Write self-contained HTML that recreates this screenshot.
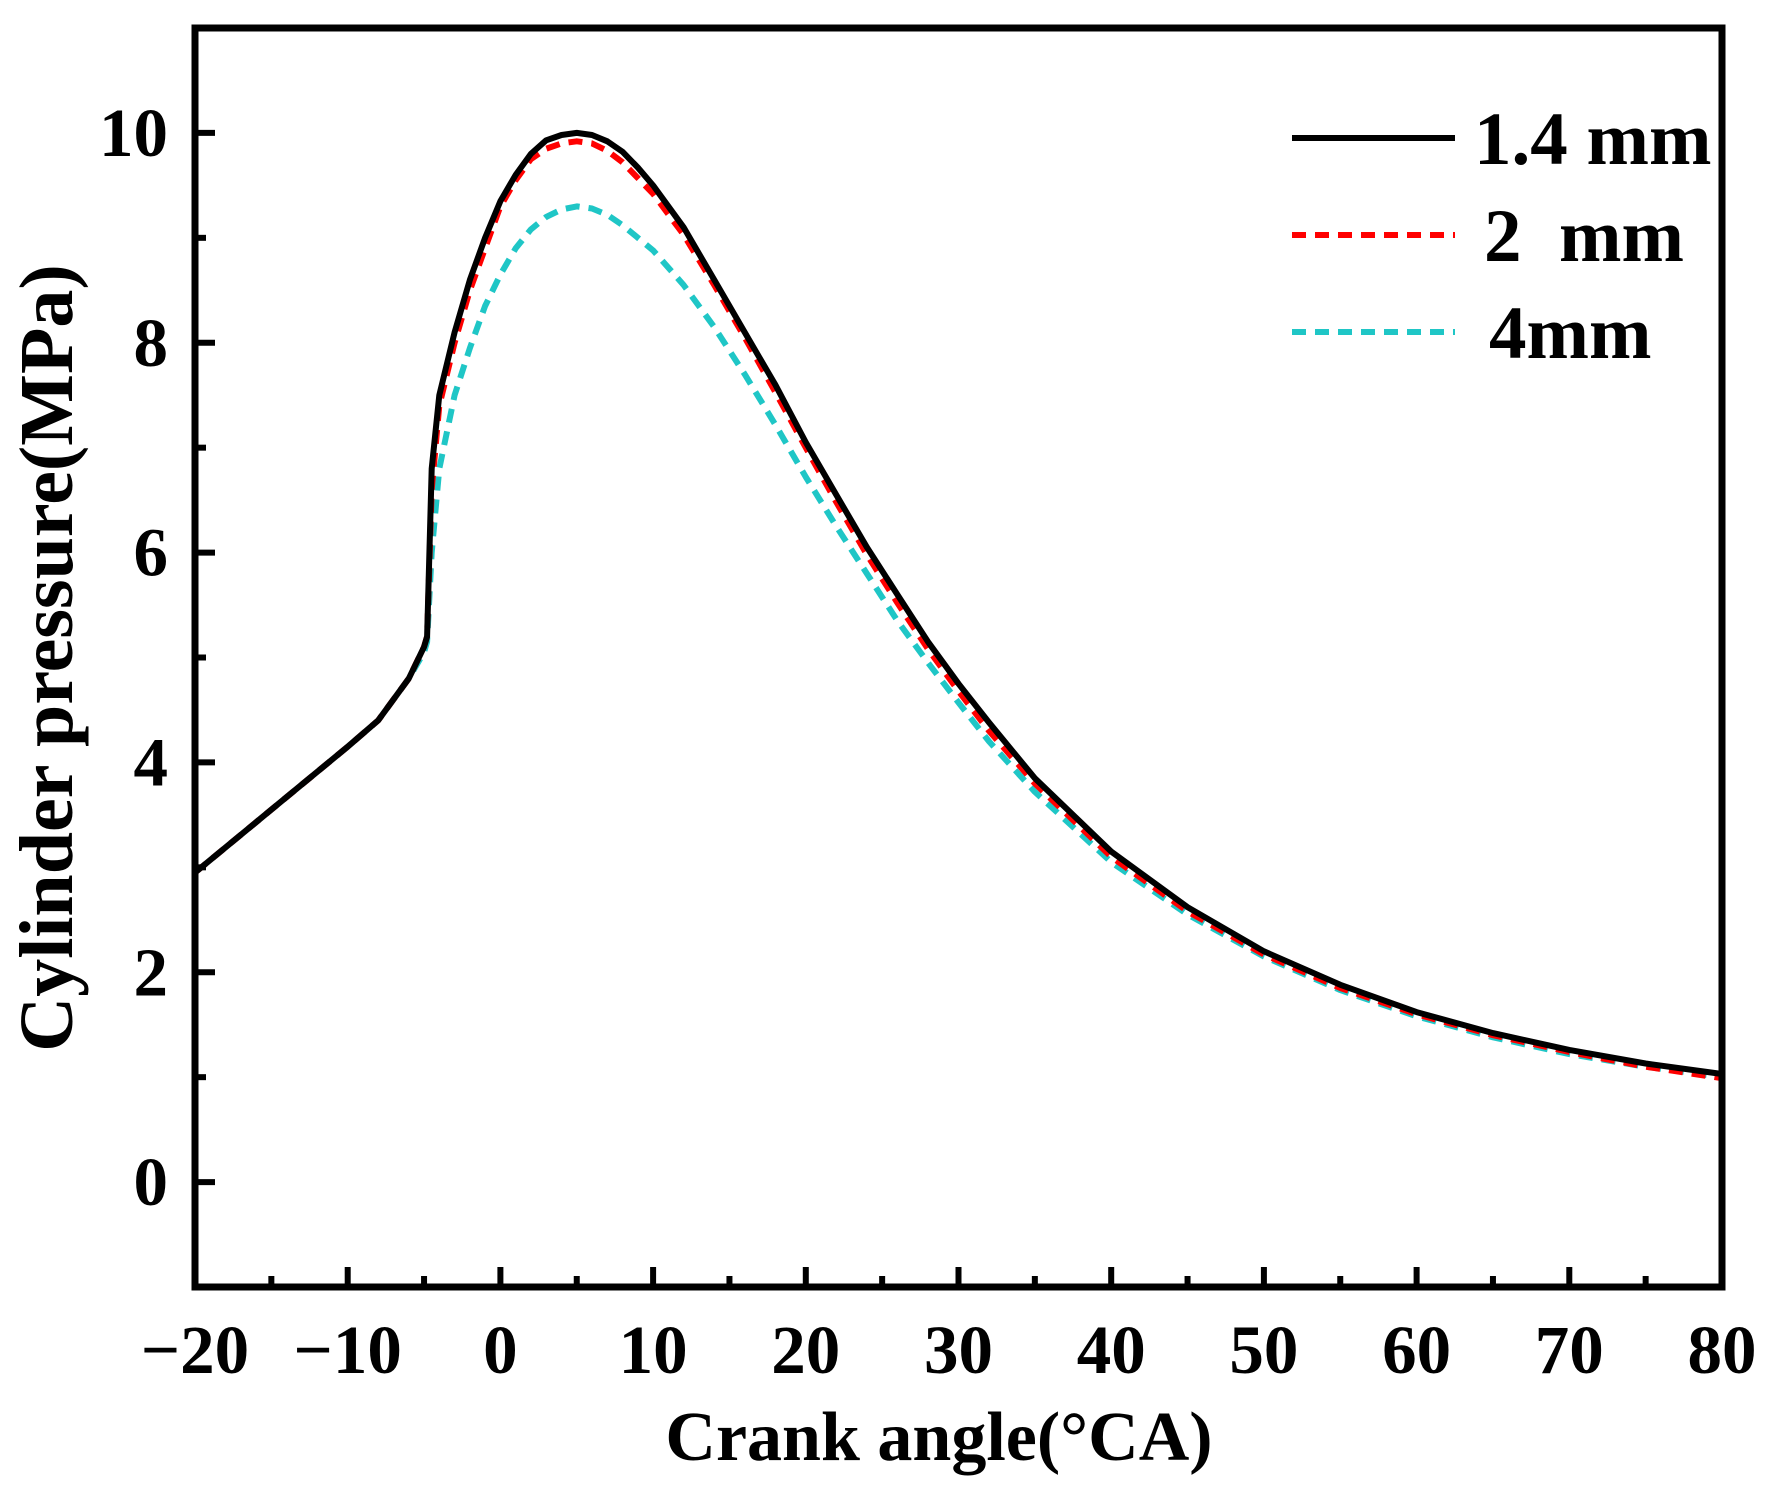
<!DOCTYPE html>
<html><head><meta charset="utf-8"><style>
body{margin:0;background:#fff}
svg text{font-family:"Liberation Serif",serif;font-weight:bold;fill:#000}
</style></head><body>
<svg width="1779" height="1490" xmlns="http://www.w3.org/2000/svg">
<g id="plot"></g>
<g id="axes"></g>
<g id="legend"></g>
<text x="939" y="1460" font-size="70" text-anchor="middle">Crank angle(°CA)</text>
<text transform="translate(72,658) rotate(-90)" font-size="76" text-anchor="middle">Cylinder pressure(MPa)</text>
</svg>
<script>
const xTicks=[-20,-10,0,10,20,30,40,50,60,70,80];
const yTicks=[0,2,4,6,8,10];
const anglesBlack=[-20,-15,-10,-8,-6,-5,-4.8,-4.5,-4,-3,-2,-1,0,1,2,3,4,5,6,7,8,9,10,12,14,16,18,20,22,24,26,28,30,32,35,40,45,50,55,60,65,70,75,80];
const pBlack=[2.95,3.55,4.15,4.4,4.8,5.1,5.2,6.8,7.5,8.1,8.6,9.0,9.35,9.6,9.8,9.93,9.98,10.0,9.98,9.92,9.82,9.67,9.5,9.1,8.6,8.1,7.6,7.05,6.55,6.05,5.6,5.15,4.75,4.38,3.85,3.15,2.62,2.2,1.88,1.62,1.42,1.26,1.13,1.03];
const angles=[-20,-15,-10,-8,-6,-5,-4.8,-4.5,-4,-3,-2,-1,0,1,2,3,4,5,6,7,8,10,12,14,16,18,20,22,24,26,28,30,32,35,40,45,50,55,60,65,70,75,80];
const pRed=[2.95,3.55,4.15,4.4,4.8,5.1,5.2,6.6,7.4,8.0,8.5,8.9,9.3,9.55,9.75,9.85,9.9,9.92,9.9,9.83,9.72,9.42,9.03,8.55,8.05,7.53,7.0,6.48,5.98,5.52,5.08,4.68,4.3,3.8,3.1,2.58,2.17,1.85,1.6,1.4,1.24,1.1,0.99];
const pCyan=[2.95,3.55,4.15,4.4,4.8,5.05,5.15,6.0,6.8,7.5,7.95,8.35,8.65,8.9,9.08,9.2,9.27,9.3,9.28,9.22,9.12,8.88,8.55,8.15,7.7,7.22,6.72,6.25,5.8,5.35,4.95,4.57,4.2,3.72,3.05,2.55,2.15,1.83,1.58,1.38,1.22,1.1,1.0];
const legendLabels=["1.4 mm","2  mm","4mm"];
const NS="http://www.w3.org/2000/svg";
const L=195,R=1722,T=28,B=1287,xmin=-20,xmax=80,ymin=-1,ymax=11;
const X=v=>L+(v-xmin)/(xmax-xmin)*(R-L);
const Y=v=>B-(v-ymin)/(ymax-ymin)*(B-T);
function mk(tag,attrs,parent){const e=document.createElementNS(NS,tag);for(const k in attrs)e.setAttribute(k,attrs[k]);parent.appendChild(e);return e;}
const plot=document.getElementById('plot'),axes=document.getElementById('axes'),leg=document.getElementById('legend');
const series=[[anglesBlack,pBlack,'#000','none','series-1-4mm'],[angles,pRed,'#ff0000','14 9','series-2mm'],[angles,pCyan,'#1fc6c6','14 9','series-4mm']];
series.slice().reverse().forEach(s=>{
 const d=s[0].map((a,i)=>(i?'L':'M')+X(a).toFixed(1)+','+Y(s[1][i]).toFixed(1)).join('');
 const p=mk('path',{d:d,fill:'none',stroke:s[2],'stroke-width':6,'stroke-dasharray':s[3],'stroke-linejoin':'round'},plot);
 
 
});
const fr=mk('rect',{x:L,y:T,width:R-L,height:B-T,fill:'none',stroke:'#000','stroke-width':7},axes);


for(let v=-15;v<80;v+=10){const t=mk('line',{x1:X(v),x2:X(v),y1:B,y2:B-11,stroke:'#000','stroke-width':6},axes);}
xTicks.forEach(v=>{
 const t=mk('line',{x1:X(v),x2:X(v),y1:B,y2:B-20,stroke:'#000','stroke-width':6},axes);
 
 
 const tx=mk('text',{x:X(v),y:1373,'font-size':69,'text-anchor':'middle'},axes);
 tx.textContent=v<0?'\u2212'+(-v):String(v);
 
 
});
for(let v=-1;v<=11;v+=2){const t=mk('line',{x1:L,x2:L+11,y1:Y(v),y2:Y(v),stroke:'#000','stroke-width':6},axes);}
yTicks.forEach(v=>{
 const t=mk('line',{x1:L,x2:L+20,y1:Y(v),y2:Y(v),stroke:'#000','stroke-width':6},axes);
 
 
 const tx=mk('text',{x:168,y:Y(v)+23,'font-size':69,'text-anchor':'end'},axes);
 tx.textContent=String(v);
 
 
});
legendLabels.forEach((lab,i)=>{
 const y=138+i*97;
 const s=series[i];
 const ln=mk('line',{x1:1292,x2:1455,y1:y,y2:y,stroke:s[2],'stroke-width':6,'stroke-dasharray':s[3]},leg);
 
 
 const tx=mk('text',{x:[1474,1484,1489][i],y:y+26,'font-size':75},leg);
 tx.setAttribute('xml:space','preserve');
 tx.style.whiteSpace='pre';
 tx.textContent=lab;
 
 
});
</script>
</body></html>
